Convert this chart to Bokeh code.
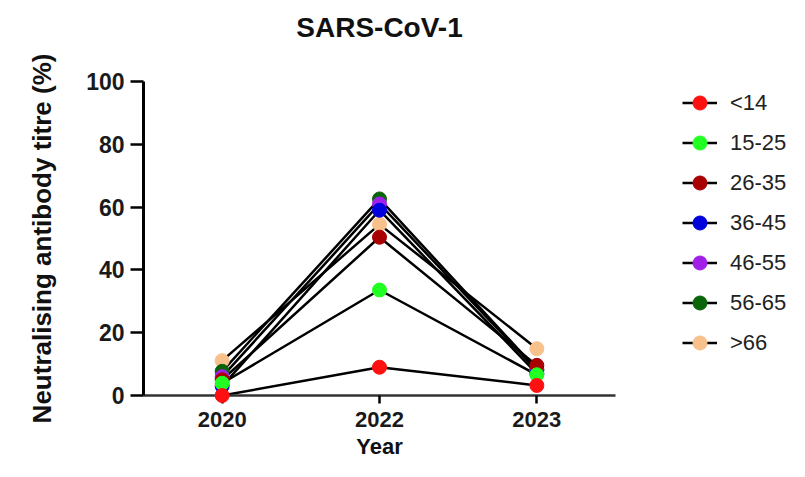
from bokeh.plotting import figure
from bokeh.layouts import row
from bokeh.models import Range1d, FactorRange, Legend, LegendItem, Title
from bokeh.embed import file_html
from bokeh.resources import INLINE

years = ["2020", "2022", "2023"]
groups = ["<14", "15-25", "26-35", "36-45", "46-55", "56-65", ">66"]
colors = ["#ff1010", "#22ff22", "#a80000", "#0000dd", "#a020e8", "#0a640a", "#f8c08a"]
v_lt14 = [0.0, 9.0, 3.2]
v_15_25 = [3.9, 33.6, 6.6]
v_26_35 = [5.0, 50.4, 9.6]
v_36_45 = [3.0, 59.0, 7.0]
v_46_55 = [6.0, 61.0, 8.0]
v_56_65 = [7.7, 62.6, 8.3]
v_gt66 = [11.1, 54.5, 14.9]
series = [v_lt14, v_15_25, v_26_35, v_36_45, v_46_55, v_56_65, v_gt66]

FONT = "Liberation Sans"

p = figure(width=640, height=461, x_range=FactorRange(*years), y_range=Range1d(0, 100),
           output_backend="svg", toolbar_location=None,
           min_border_left=143, min_border_right=25, min_border_top=81, min_border_bottom=66)
p.outline_line_color = None
p.grid.visible = False
p.background_fill_color = "white"
p.border_fill_color = "white"

spacer = Title(text=" ", text_font=FONT, text_font_size="20px", standoff=14)
p.add_layout(spacer, "above")
t = Title(text="SARS-CoV-1", align="center", text_font=FONT,
          text_font_size="28px", text_font_style="bold", text_color="#111111", standoff=2)
p.add_layout(t, "above")

for name, col, vals in zip(groups, colors, series):
    p.line(years, vals, line_color="black", line_width=2.5)
for name, col, vals in reversed(list(zip(groups, colors, series))):
    p.scatter(years, vals, size=14, fill_color=col, line_color=col, marker="circle", level="overlay")

# legend panel: same series, plotted outside its visible range so only the legend shows
q = figure(width=149, height=461, x_range=FactorRange(*years), y_range=Range1d(1000, 1001),
           output_backend="svg", toolbar_location=None, x_axis_type=None, y_axis_type=None,
           min_border_left=0, min_border_right=0, min_border_top=0, min_border_bottom=0)
q.outline_line_color = None
q.grid.visible = False
items = []
for name, col, vals in zip(groups, colors, series):
    lr = q.line(years, vals, line_color="black", line_width=2.5)
    sr = q.scatter(years, vals, size=14, fill_color=col, line_color=col, marker="circle")
    items.append(LegendItem(label=name, renderers=[lr, sr]))

leg = Legend(items=items, location=(42, 35), padding=0, margin=0, spacing=5,
             glyph_width=35, glyph_height=35, label_standoff=13,
             label_text_font=FONT, label_text_font_size="22px", label_text_color="#222222",
             border_line_color=None, background_fill_alpha=0)
q.add_layout(leg, "center")

ya = p.yaxis[0]
ya.ticker = [0, 20, 40, 60, 80, 100]
ya.axis_line_width = 3
ya.axis_line_color = "black"
ya.major_tick_line_width = 2.5
ya.major_tick_line_color = "black"
ya.major_tick_out = 13
ya.major_tick_in = 0
ya.minor_tick_line_color = None
ya.major_label_standoff = 6
ya.major_label_text_font = FONT
ya.major_label_text_font_size = "23px"
ya.major_label_text_font_style = "bold"
ya.major_label_text_color = "#1a1a1a"
ya.axis_label = "Neutralising antibody titre (%)"
ya.axis_label_text_font = FONT
ya.axis_label_text_font_size = "26px"
ya.axis_label_text_font_style = "bold"
ya.axis_label_text_color = "#111111"
ya.axis_label_standoff = 26

xa = p.xaxis[0]
xa.axis_line_width = 2.5
xa.axis_line_color = "#333333"
xa.major_tick_line_width = 2.5
xa.major_tick_line_color = "black"
xa.major_tick_out = 8
xa.major_tick_in = 0
xa.minor_tick_line_color = None
xa.major_label_standoff = 8
xa.major_label_text_font = FONT
xa.major_label_text_font_size = "22px"
xa.major_label_text_font_style = "bold"
xa.major_label_text_color = "#1a1a1a"
xa.axis_label = "Year"
xa.axis_label_text_font = FONT
xa.axis_label_text_font_size = "22px"
xa.axis_label_text_font_style = "bold"
xa.axis_label_text_color = "#111111"
xa.axis_label_standoff = 4

open("out.html", "w").write(file_html(row(p, q), INLINE))
